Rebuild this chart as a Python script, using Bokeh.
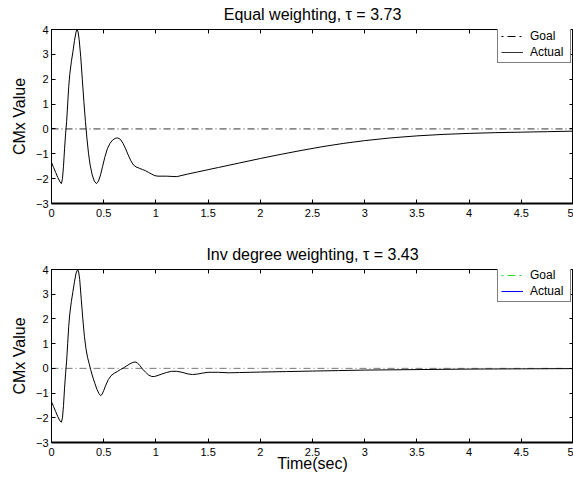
from bokeh.plotting import figure
from bokeh.models import (Range1d, FixedTicker, LinearAxis, Legend, LegendItem,
                          CustomLabelingPolicy)
from bokeh.layouts import column
from bokeh.embed import file_html
from bokeh.resources import INLINE

# ---------------- data ----------------
title_equal = "Equal weighting, \u03c4 = 3.73"
title_inv = "Inv degree weighting, \u03c4 = 3.43"
x_label = "Time(sec)"
y_label = "CMx Value"

x_ticks = [0, 0.5, 1, 1.5, 2, 2.5, 3, 3.5, 4, 4.5, 5]
x_tick_labels = ["0", "0.5", "1", "1.5", "2", "2.5", "3", "3.5", "4", "4.5", "5"]
y_ticks = [-3, -2, -1, 0, 1, 2, 3, 4]
y_tick_labels = ["\u22123", "\u22122", "\u22121", "0", "1", "2", "3", "4"]

goal_t = [0, 5]
goal_value = [0, 0]
nan = float("nan")
legend_sample = [nan]

t_equal = [0.00, 0.02, 0.04, 0.06, 0.08, 0.095, 0.105, 0.115, 0.125, 0.135,
           0.145, 0.155, 0.165, 0.175, 0.19, 0.205, 0.22, 0.235, 0.245, 0.255,
           0.265, 0.28, 0.295, 0.31, 0.325, 0.34, 0.355, 0.37, 0.39, 0.41,
           0.43, 0.45, 0.47, 0.49, 0.51, 0.535, 0.56, 0.585, 0.61, 0.635,
           0.66, 0.685, 0.71, 0.735, 0.76, 0.785, 0.81, 0.84, 0.87, 0.90,
           0.93, 0.96, 0.99, 1.02, 1.10, 1.20, 1.30, 1.40, 1.50, 1.60,
           1.80, 2.00, 2.20, 2.40, 2.60, 2.80, 3.00, 3.25, 3.50, 3.75,
           4.00, 4.25, 4.50, 4.75, 5.00]
cmx_equal = [-1.35, -1.55, -1.75, -1.95, -2.12, -2.20, -2.00, -1.50, -0.80, -0.20,
             0.30, 1.00, 1.70, 2.20, 2.70, 3.10, 3.55, 3.90, 4.00, 3.90,
             3.60, 2.90, 2.00, 1.10, 0.30, -0.40, -1.00, -1.45, -1.85, -2.10,
             -2.20, -2.10, -1.85, -1.50, -1.15, -0.80, -0.58, -0.45, -0.38, -0.36,
             -0.42, -0.58, -0.80, -1.05, -1.28, -1.45, -1.53, -1.58, -1.63, -1.68,
             -1.75, -1.82, -1.88, -1.90, -1.90, -1.92, -1.82, -1.73, -1.64, -1.55,
             -1.37, -1.19, -1.02, -0.86, -0.71, -0.58, -0.47, -0.36, -0.28, -0.22,
             -0.18, -0.15, -0.13, -0.11, -0.09]

t_inv = [0.00, 0.02, 0.04, 0.06, 0.08, 0.095, 0.105, 0.115, 0.125, 0.135,
         0.145, 0.155, 0.165, 0.175, 0.19, 0.205, 0.22, 0.235, 0.25, 0.26,
         0.27, 0.285, 0.30, 0.315, 0.33, 0.345, 0.36, 0.375, 0.395, 0.415,
         0.435, 0.455, 0.47, 0.485, 0.50, 0.52, 0.545, 0.57, 0.60, 0.63,
         0.66, 0.69, 0.72, 0.75, 0.78, 0.80, 0.82, 0.845, 0.87, 0.90,
         0.93, 0.96, 0.985, 1.01, 1.05, 1.10, 1.15, 1.20, 1.25, 1.30,
         1.35, 1.40, 1.45, 1.50, 1.60, 1.70, 1.80, 2.00, 2.25, 2.50,
         2.75, 3.00, 3.50, 4.00, 4.50, 5.00]
cmx_inv = [-1.35, -1.55, -1.75, -1.95, -2.12, -2.18, -2.00, -1.50, -0.80, -0.20,
           0.30, 1.00, 1.70, 2.20, 2.70, 3.10, 3.50, 3.85, 4.00, 3.90,
           3.60, 2.80, 2.00, 1.30, 0.80, 0.45, 0.20, -0.05, -0.35, -0.60,
           -0.85, -1.02, -1.10, -1.05, -0.90, -0.68, -0.45, -0.30, -0.20, -0.13,
           -0.05, 0.02, 0.10, 0.18, 0.24, 0.26, 0.23, 0.12, -0.02, -0.15,
           -0.27, -0.33, -0.33, -0.30, -0.24, -0.17, -0.12, -0.12, -0.16, -0.22,
           -0.25, -0.23, -0.19, -0.16, -0.16, -0.18, -0.17, -0.15, -0.13, -0.11,
           -0.09, -0.07, -0.05, -0.03, -0.02, -0.01]

FONT = "Liberation Sans"


def style_axis(ax, show_labels=True, line_width=1):
    ax.major_tick_in = 4
    ax.major_tick_out = 0
    ax.minor_tick_line_color = None
    ax.major_tick_line_color = "black"
    ax.axis_line_color = "black"
    ax.axis_line_width = line_width
    ax.major_label_text_font = FONT
    ax.major_label_text_color = "black"
    if show_labels:
        ax.major_label_text_font_size = "11px"
    else:
        ax.major_label_text_font_size = "0px"
        ax.major_label_standoff = 0
        ax.major_label_policy = CustomLabelingPolicy(
            code="for (const i of indices) { indices.unset(i) }\nreturn indices")


def make_panel(title, t, cmx, goal_color, legend_goal_color, legend_actual_color,
               top_border, height, show_xlabel):
    p = figure(width=573, height=height, output_backend="svg", toolbar_location=None,
               x_range=Range1d(0, 5), y_range=Range1d(-3, 4),
               min_border_left=51, min_border_right=0,
               min_border_top=top_border, min_border_bottom=37)
    p.grid.grid_line_color = None
    p.outline_line_color = "black"
    p.outline_line_width = 1
    p.background_fill_color = "white"
    p.border_fill_color = "white"

    p.title.text = title
    p.title.align = "center"
    p.title.vertical_align = "top"
    p.title.text_font = FONT
    p.title.text_font_size = "16px"
    p.title.text_font_style = "normal"
    p.title.text_color = "black"
    p.title.standoff = 10

    p.xaxis.ticker = FixedTicker(ticks=x_ticks)
    p.yaxis.ticker = FixedTicker(ticks=y_ticks)
    p.xaxis.major_label_overrides = dict(zip(x_ticks, x_tick_labels))
    p.yaxis.major_label_overrides = dict(zip(y_ticks, y_tick_labels))
    for ax in p.xaxis:
        style_axis(ax, True, 2)
        ax.major_label_standoff = 5
    for ax in p.yaxis:
        style_axis(ax, True, 1)
        ax.major_label_standoff = 3
    p.yaxis.axis_label = y_label
    p.yaxis.axis_label_text_font = FONT
    p.yaxis.axis_label_text_font_size = "16px"
    p.yaxis.axis_label_text_font_style = "normal"
    p.yaxis.axis_label_text_color = "black"
    p.yaxis.axis_label_standoff = 5
    if show_xlabel:
        p.xaxis.axis_label = x_label
        p.xaxis.axis_label_text_font = FONT
        p.xaxis.axis_label_text_font_size = "16px"
        p.xaxis.axis_label_text_font_style = "normal"
        p.xaxis.axis_label_text_color = "black"
        p.xaxis.axis_label_standoff = -4

    top_ax = LinearAxis(ticker=FixedTicker(ticks=x_ticks))
    style_axis(top_ax, False)
    right_ax = LinearAxis(ticker=FixedTicker(ticks=y_ticks))
    style_axis(right_ax, False)
    p.add_layout(top_ax, "above")
    p.add_layout(right_ax, "right")

    p.line(goal_t, goal_value, line_color=goal_color, line_width=1, line_dash="7 3 1 3")
    p.line(t, cmx, line_color="black", line_width=1)

    # legend sample renderers (style only, nothing plotted)
    g = p.line(legend_sample, legend_sample, line_color=legend_goal_color,
               line_width=1, line_dash="2 4 8 4")
    a = p.line(legend_sample, legend_sample, line_color=legend_actual_color,
               line_width=1)
    legend = Legend(items=[LegendItem(label="Goal", renderers=[g]),
                           LegendItem(label="Actual", renderers=[a])],
                    location=(446, 140))
    legend.label_text_font = FONT
    legend.label_text_font_size = "12px"
    legend.label_text_color = "black"
    legend.padding = 3
    legend.spacing = 2
    legend.margin = 0
    legend.glyph_width = 22
    legend.glyph_height = 12
    legend.label_height = 12
    legend.label_width = 37
    legend.label_standoff = 7
    legend.border_line_color = "black"
    legend.border_line_width = 1
    legend.background_fill_color = "white"
    legend.background_fill_alpha = 1
    p.add_layout(legend, "center")
    return p


p1 = make_panel(title_equal, t_equal, cmx_equal, "#333333", "black", "#333333",
                29, 240, False)
p2 = make_panel(title_inv, t_inv, cmx_inv, "#777777", "#22e022", "#0000ff",
                28, 239, True)

layout = column(p1, p2, spacing=0)

with open("out.html", "w") as f:
    f.write(file_html(layout, INLINE))
